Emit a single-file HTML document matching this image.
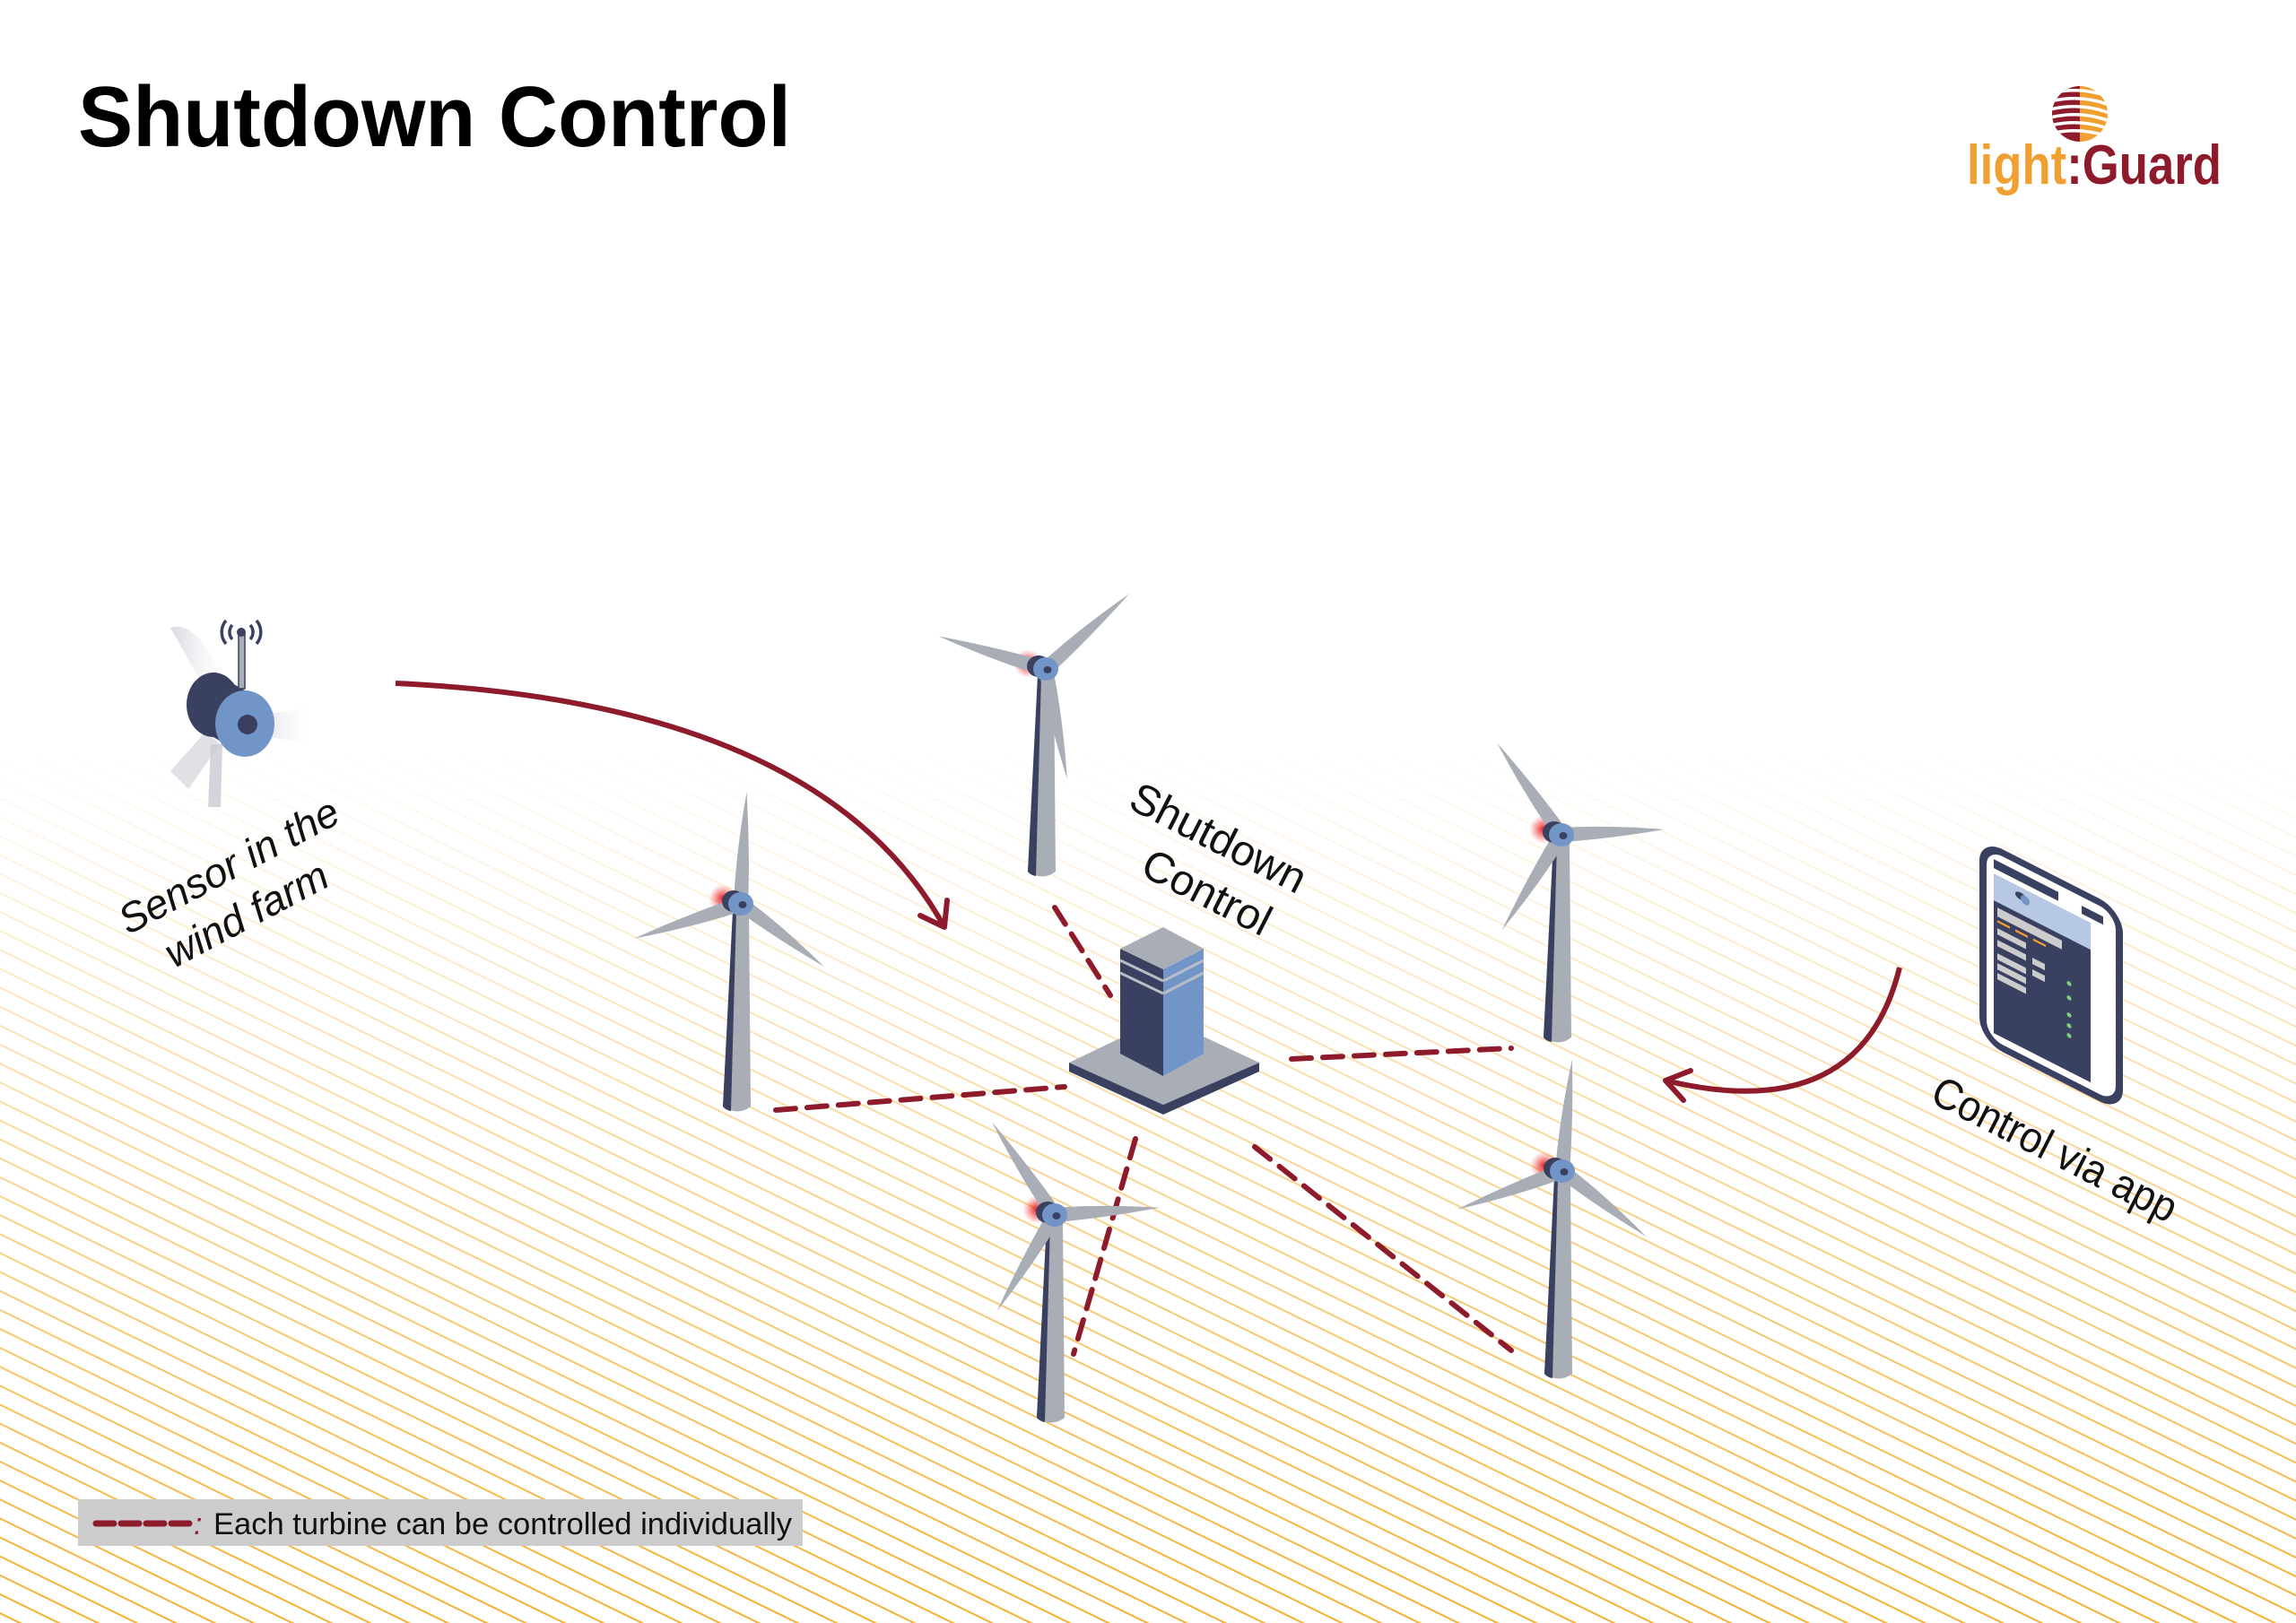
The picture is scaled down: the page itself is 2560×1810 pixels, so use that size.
<!DOCTYPE html>
<html><head><meta charset="utf-8"><style>
html,body{margin:0;padding:0;background:#fff;}
svg{display:block;}
text{font-family:"Liberation Sans",sans-serif;}
</style></head><body>
<svg width="2560" height="1810" viewBox="0 0 2560 1810" xmlns="http://www.w3.org/2000/svg">
<defs>
  <pattern id="hatch" patternUnits="userSpaceOnUse" width="40" height="19" patternTransform="rotate(26)">
    <line x1="0" y1="2" x2="40" y2="2" stroke="#f5b030" stroke-width="1.9"/>
  </pattern>
  <linearGradient id="fade" x1="0" y1="0" x2="0" y2="1">
    <stop offset="0" stop-color="#fff" stop-opacity="0"/>
    <stop offset="0.45" stop-color="#fff" stop-opacity="0.5"/>
    <stop offset="1" stop-color="#fff" stop-opacity="1"/>
  </linearGradient>
  <mask id="hm" maskUnits="userSpaceOnUse" x="0" y="0" width="2560" height="1810">
    <rect x="0" y="840" width="2560" height="970" fill="url(#fade)"/>
  </mask>
  <radialGradient id="glow">
    <stop offset="0" stop-color="#e0101a" stop-opacity="0.95"/>
    <stop offset="0.5" stop-color="#ee3030" stop-opacity="0.5"/>
    <stop offset="1" stop-color="#ff6060" stop-opacity="0"/>
  </radialGradient>
  <linearGradient id="sblade" x1="0" y1="0" x2="1" y2="0">
    <stop offset="0" stop-color="#c8cad2" stop-opacity="0.9"/>
    <stop offset="1" stop-color="#e8e9ee" stop-opacity="0"/>
  </linearGradient>
  <path id="blade" d="M -8 -6 Q -8 -60 0 -125 Q 7 -60 8 -6 Z" fill="#a9adb5"/>
  <g id="tower">
    <path d="M -9 8 L 9 8 L 11 226 Q -3 237 -20 226 Z" fill="#a9adb5"/>
    <path d="M -9 8 L -5 8 L -11 231 Q -17 230 -20 226 Z" fill="#3a4060"/>
  </g>
  <g id="hub">
    <ellipse cx="-8" cy="-3" rx="13" ry="12" fill="#3a4060"/>
    <ellipse cx="0" cy="0" rx="14" ry="13" fill="#7295c8"/>
    <ellipse cx="2" cy="1" rx="4.5" ry="4" fill="#3a4060"/>
  </g>
  <clipPath id="gc"><circle cx="2319" cy="127" r="31"/></clipPath>
</defs>

<rect x="0" y="840" width="2560" height="970" fill="url(#hatch)" mask="url(#hm)"/>

<text x="87" y="163" font-size="96" font-weight="bold" fill="#000" textLength="795" lengthAdjust="spacingAndGlyphs">Shutdown Control</text>

<g clip-path="url(#gc)">
  <rect x="2288" y="96" width="31" height="62" fill="#8e1b2b"/>
  <rect x="2319" y="96" width="31" height="62" fill="#f0a030"/>
  <g stroke="#fff" stroke-width="3.5" fill="none">
    <path d="M2286 104 Q2320 96 2352 108"/>
    <path d="M2286 113 Q2320 105 2352 117"/>
    <path d="M2286 122 Q2320 114 2352 126"/>
    <path d="M2286 131 Q2320 123 2352 135"/>
    <path d="M2286 140 Q2320 132 2352 144"/>
    <path d="M2286 149 Q2320 141 2352 153"/>
  </g>
</g>
<text x="2193" y="205" font-size="62" font-weight="bold" textLength="284" lengthAdjust="spacingAndGlyphs"><tspan fill="#f0a030">light</tspan><tspan fill="#8e1b2b">:Guard</tspan></text>

<g>
  <path d="M238 785 L190 700 Q220 690 250 760 Z" fill="url(#sblade)" opacity="0.8"/>
  <path d="M265 800 L345 790 L345 830 L265 815 Z" fill="url(#sblade)"/>
  <path d="M230 815 L190 860 L210 880 L245 830 Z" fill="#d8d9df" opacity="0.8"/>
  <path d="M235 830 L232 900 L246 900 L248 830 Z" fill="#c9cad2" opacity="0.8"/>
  <ellipse cx="238" cy="786" rx="30" ry="36" fill="#3a4060"/>
  <path d="M238 750 L273 770 L273 843 L238 822 Z" fill="#3a4060"/>
  <ellipse cx="273" cy="807" rx="33" ry="37" fill="#7295c8"/>
  <ellipse cx="276" cy="808" rx="11" ry="11" fill="#3a4060"/>
  <rect x="266" y="706" width="7" height="62" fill="#a9adb5" stroke="#3a4060" stroke-width="1.5"/>
  <circle cx="269" cy="705" r="5" fill="#3a4060"/>
  <g fill="none" stroke="#3a4060" stroke-width="3.5">
    <path d="M259 697 A12 12 0 0 0 259 713"/>
    <path d="M279 697 A12 12 0 0 1 279 713"/>
    <path d="M252 692 A20 20 0 0 0 252 718"/>
    <path d="M286 692 A20 20 0 0 1 286 718"/>
  </g>
</g>
<g transform="translate(268,990) rotate(-28)" font-size="46" font-style="italic" fill="#111" text-anchor="middle">
  <text x="0" y="-12">Sensor in the</text>
  <text x="-8" y="45">wind farm</text>
</g>

<path d="M441 762 Q915 784 1053 1034" fill="none" stroke="#8e1b2b" stroke-width="6"/>
<polyline points="1026,1021 1053,1034 1056,1004" fill="none" stroke="#8e1b2b" stroke-width="6" stroke-linecap="round" stroke-linejoin="round"/>

<g stroke="#8e1b2b" stroke-width="6" stroke-dasharray="22 13" fill="none" stroke-linecap="round">
  <line x1="1176" y1="1012" x2="1238" y2="1110"/>
  <line x1="865" y1="1238" x2="1187" y2="1212"/>
  <line x1="1440" y1="1181" x2="1685" y2="1169"/>
  <line x1="1266" y1="1270" x2="1197" y2="1510"/>
  <line x1="1399" y1="1279" x2="1685" y2="1506"/>
</g>

<g>
  <polygon points="1192,1185 1297,1232 1404,1185 1404,1195 1297,1243 1192,1195" fill="#3a4060"/>
  <polygon points="1192,1185 1297,1135 1404,1185 1297,1232" fill="#a9adb5"/>
  <polygon points="1249,1058 1297,1081 1297,1200 1249,1175" fill="#3a4060"/>
  <polygon points="1297,1081 1342,1058 1342,1175 1297,1200" fill="#7295c8"/>
  <polygon points="1249,1058 1297,1034 1342,1058 1297,1081" fill="#a9adb5"/>
  <g stroke="#b8bcc6" stroke-width="3">
    <line x1="1249" y1="1071" x2="1297" y2="1094"/>
    <line x1="1297" y1="1094" x2="1342" y2="1071"/>
    <line x1="1249" y1="1085" x2="1297" y2="1108"/>
    <line x1="1297" y1="1108" x2="1342" y2="1085"/>
  </g>
</g>
<g transform="translate(1352,965) rotate(27)" font-size="48" fill="#111" text-anchor="middle">
  <text x="-8" y="-14">Shutdown</text>
  <text x="8" y="46">Control</text>
</g>

<g transform="translate(826,1008)">
  <use href="#tower"/>
  <circle cx="-20" cy="-6" r="16" fill="url(#glow)"/>
  <use href="#blade" transform="rotate(3)"/>
  <use href="#blade" transform="rotate(-108)"/>
  <use href="#blade" transform="rotate(127) scale(1,0.93)"/>
  <use href="#hub"/>
</g>
<g transform="translate(1166,746)">
  <use href="#tower"/>
  <circle cx="-20" cy="-6" r="16" fill="url(#glow)"/>
  <use href="#blade" transform="rotate(-73)"/>
  <use href="#blade" transform="rotate(48)"/>
  <use href="#blade" transform="rotate(169)"/>
  <use href="#hub"/>
</g>
<g transform="translate(1741,931)">
  <use href="#tower"/>
  <circle cx="-20" cy="-6" r="16" fill="url(#glow)"/>
  <use href="#blade" transform="rotate(-35)"/>
  <use href="#blade" transform="rotate(87) scale(1,0.92)"/>
  <use href="#blade" transform="rotate(-148)"/>
  <use href="#hub"/>
</g>
<g transform="translate(1176,1355)">
  <use href="#tower"/>
  <circle cx="-20" cy="-6" r="16" fill="url(#glow)"/>
  <use href="#blade" transform="rotate(-34)"/>
  <use href="#blade" transform="rotate(86) scale(1,0.94)"/>
  <use href="#blade" transform="rotate(-149)"/>
  <use href="#hub"/>
</g>
<g transform="translate(1742,1306)">
  <use href="#tower"/>
  <circle cx="-20" cy="-6" r="16" fill="url(#glow)"/>
  <use href="#blade" transform="rotate(5)"/>
  <use href="#blade" transform="rotate(-110)"/>
  <use href="#blade" transform="rotate(128) scale(1,0.95)"/>
  <use href="#hub"/>
</g>

<path d="M2118 1079 Q2074 1257 1857 1205" fill="none" stroke="#8e1b2b" stroke-width="6"/>
<polyline points="1877,1227 1857,1205 1885,1194" fill="none" stroke="#8e1b2b" stroke-width="6" stroke-linecap="round" stroke-linejoin="round"/>

<g transform="translate(2211,940) skewY(27)">
  <rect x="0" y="0" width="152" height="218" rx="22" fill="#fff" stroke="#3a4060" stroke-width="8"/>
  <rect x="12" y="12" width="72" height="10" fill="#3a4060"/>
  <rect x="110" y="14" width="24" height="9" fill="#3a4060"/>
  <rect x="12" y="28" width="108" height="110" fill="#b6c8e2"/>
  <rect x="12" y="58" width="108" height="148" fill="#3a4060"/>
  <rect x="16" y="64" width="72" height="10" fill="#ccc"/>
  <rect x="16" y="78" width="14" height="2.5" fill="#f0a030"/>
  <rect x="36" y="78" width="14" height="2.5" fill="#f0a030"/>
  <rect x="56" y="78" width="14" height="2.5" fill="#f0a030"/>
  <rect x="16" y="87" width="32" height="7" fill="#ccc"/>
  <rect x="16" y="100" width="32" height="7" fill="#ccc"/>
  <rect x="55" y="100" width="14" height="7" fill="#ccc"/>
  <rect x="16" y="115" width="32" height="7" fill="#ccc"/>
  <rect x="55" y="113" width="14" height="7" fill="#ccc"/>
  <rect x="16" y="126" width="32" height="7" fill="#ccc"/>
  <rect x="16" y="137" width="32" height="7" fill="#ccc"/>
  <g fill="#7ccf7c"><circle cx="96" cy="108" r="2.5"/><circle cx="96" cy="124" r="2.5"/><circle cx="96" cy="143" r="2.5"/><circle cx="96" cy="155" r="2.5"/><circle cx="96" cy="166" r="2.5"/></g>
  <ellipse cx="42" cy="38" rx="6" ry="4" fill="#3a4060"/>
  <ellipse cx="47" cy="40" rx="5" ry="5" fill="#7295c8"/>
</g>
<g transform="translate(2291,1282) rotate(27)" font-size="48" fill="#111" text-anchor="middle">
  <text x="0" y="16" textLength="300" lengthAdjust="spacingAndGlyphs">Control via app</text>
</g>

<rect x="87" y="1672" width="808" height="52" fill="#cccccc"/>
<line x1="107" y1="1699" x2="213" y2="1699" stroke="#8e1b2b" stroke-width="7" stroke-dasharray="20 8" stroke-linecap="round"/>
<text x="216" y="1711" font-size="34" fill="#8e1b2b" font-style="italic">:</text>
<text x="238" y="1711" font-size="34" fill="#111" textLength="645" lengthAdjust="spacingAndGlyphs">Each turbine can be controlled individually</text>
</svg>
</body></html>
